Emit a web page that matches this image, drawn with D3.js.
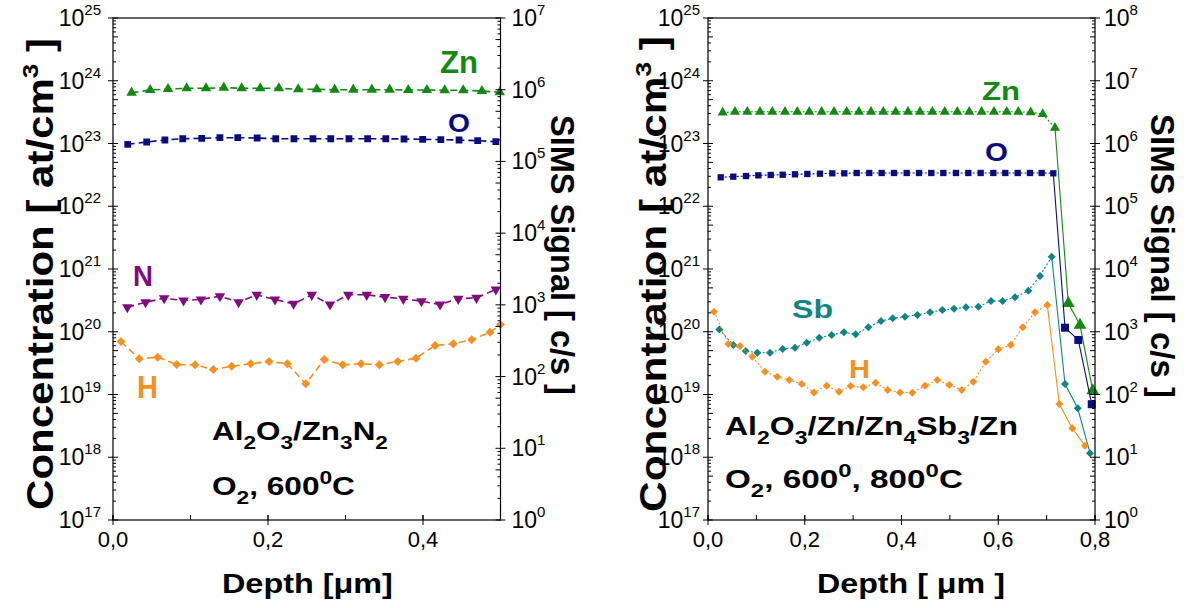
<!DOCTYPE html>
<html><head><meta charset="utf-8">
<script src="https://cdn.jsdelivr.net/npm/d3@7"></script>
<style>body{margin:0;background:#fff} svg text{font-family:"Liberation Sans",Arial,sans-serif}</style>
</head><body><svg id="c" width="1189" height="608"></svg>
<script>
// ---------- DATA (depth in µm, concentration in at/cm^3) ----------
// Left panel: Al2O3/Zn3N2, O2 600°C
const p1ZnDepth = [0.024,0.048,0.071,0.095,0.120,0.143,0.166,0.190,0.214,0.239,0.263,0.286,0.310,0.334,0.357,0.381,0.405,0.428,0.452,0.476,0.499];
const p1Zn      = [6.45e23,7.12e23,7.39e23,7.58e23,7.58e23,7.75e23,7.58e23,7.58e23,7.58e23,7.31e23,7.31e23,7.2e23,7.2e23,7.2e23,7.2e23,7.12e23,7.12e23,7.04e23,7.04e23,6.87e23,6.55e23];
const p1ODepth  = [0.019,0.0435,0.067,0.090,0.1145,0.138,0.161,0.186,0.210,0.2335,0.258,0.281,0.3045,0.3286,0.352,0.3755,0.3996,0.423,0.4465,0.4706,0.494];
const p1O       = [9.71e22,1.057e23,1.137e23,1.19e23,1.21e23,1.237e23,1.237e23,1.224e23,1.19e23,1.19e23,1.19e23,1.19e23,1.19e23,1.19e23,1.19e23,1.18e23,1.167e23,1.15e23,1.137e23,1.108e23,1.069e23];
const p1NDepth  = [0.0185,0.042,0.066,0.091,0.1135,0.138,0.162,0.1855,0.209,0.233,0.2565,0.280,0.3036,0.3274,0.351,0.3746,0.398,0.422,0.4455,0.469,0.494];
const p1N       = [2.46e20,2.95e20,3.42e20,3.15e20,3.27e20,3.69e20,2.95e20,3.88e20,3.27e20,2.79e20,3.88e20,2.72e20,3.88e20,3.88e20,3.56e20,3.35e20,3.07e20,2.72e20,3.35e20,3.47e20,4.71e20];
const p1HDepth  = [0.0103,0.0339,0.0577,0.0822,0.1058,0.1294,0.1532,0.1777,0.2013,0.225,0.2487,0.2726,0.2964,0.32,0.3436,0.3674,0.391,0.4155,0.4391,0.4628,0.4865,0.5];
const p1H       = [7.0e19,3.71e19,3.93e19,3.0e19,2.97e19,2.5e19,2.82e19,3.09e19,3.36e19,3.09e19,1.48e19,3.61e19,2.97e19,3.09e19,2.97e19,3.36e19,3.79e19,6.04e19,6.43e19,7.45e19,9.8e19,1.3e20];

// Right panel: Al2O3/Zn/Zn4Sb3/Zn, O2 600°, 800°C
const p2ZnDepth = [0.0304,0.0558,0.0812,0.1075,0.1329,0.1592,0.1846,0.2094,0.235,0.2605,0.2867,0.3121,0.337,0.3624,0.388,0.4134,0.4382,0.4637,0.4893,0.5153,0.5401,0.5657,0.5912,0.6175,0.6414,0.6671,0.6919,0.7173,0.7448,0.7690,0.7953];
const p2Zn      = [3.1e23,3.2e23,3.2e23,3.2e23,3.2e23,3.2e23,3.2e23,3.2e23,3.2e23,3.2e23,3.2e23,3.2e23,3.2e23,3.2e23,3.2e23,3.2e23,3.2e23,3.2e23,3.2e23,3.2e23,3.2e23,3.2e23,3.2e23,3.2e23,3.2e23,3.14e23,2.95e23,1.78e23,2.84e20,1.28e20,1.15e19];
const p2ODepth  = [0.0263,0.0523,0.0786,0.104,0.1296,0.1544,0.1798,0.2053,0.2315,0.257,0.2818,0.3074,0.3334,0.359,0.3845,0.4107,0.4362,0.4616,0.4864,0.5126,0.5381,0.5637,0.5898,0.6146,0.6402,0.6656,0.6898,0.7138,0.738,0.7655,0.7932];
const p2O       = [2.89e22,2.96e22,3.03e22,3.11e22,3.15e22,3.18e22,3.23e22,3.27e22,3.30e22,3.35e22,3.35e22,3.39e22,3.39e22,3.39e22,3.39e22,3.39e22,3.39e22,3.39e22,3.39e22,3.39e22,3.39e22,3.39e22,3.39e22,3.39e22,3.39e22,3.39e22,3.39e22,3.35e22,1.16e20,7.4e19,7.0e18];
const p2SbDepth = [0.0234,0.0523,0.0779,0.1019,0.1282,0.1544,0.1798,0.204,0.230,0.2557,0.281,0.3053,0.3314,0.3576,0.3818,0.4072,0.4327,0.459,0.4844,0.5085,0.5333,0.5588,0.585,0.6092,0.6346,0.6622,0.6863,0.7105,0.738,0.7643,0.7897];
const p2Sb      = [1.09e20,6.15e19,4.93e19,4.64e19,4.64e19,5.31e19,5.57e19,6.69e19,8.04e19,8.87e19,9.8e19,9.1e19,1.18e20,1.48e20,1.64e20,1.74e20,1.85e20,2.04e20,2.22e20,2.33e20,2.45e20,2.51e20,3.09e20,3.09e20,3.54e20,4.51e20,7.73e20,1.57e21,1.47e19,6.03e18,1.16e18];
const p2HDepth  = [0.0124,0.042,0.0661,0.0916,0.1178,0.1433,0.168,0.1937,0.2191,0.2454,0.2708,0.295,0.321,0.3467,0.3715,0.3969,0.4224,0.4486,0.474,0.4988,0.5245,0.5485,0.5741,0.6001,0.6257,0.6505,0.6759,0.7014,0.7262,0.753,0.7793];
const p2H       = [2.09e20,6.38e19,5.93e19,4.0e19,2.31e19,1.92e19,1.70e19,1.47e19,1.08e19,1.38e19,1.11e19,1.37e19,1.30e19,1.54e19,1.18e19,1.08e19,1.07e19,1.38e19,1.70e19,1.42e19,1.18e19,1.60e19,3.33e19,5.25e19,6.15e19,1.18e20,2.04e20,2.67e20,7.06e18,2.89e18,1.53e18];

// Tick labels
const concTickExps = [17,18,19,20,21,22,23,24,25];
const p1SimsTickExps = [0,1,2,3,4,5,6,7];
const p2SimsTickExps = [0,1,2,3,4,5,6,7,8];
const p1DepthTicks = [0,0.2,0.4];
const p2DepthTicks = [0,0.2,0.4,0.6,0.8];

// ---------- DRAWING ----------
const svg = d3.select('#c');
const COL = {Zn:'#138a13', O:'#0c0c80', N:'#7f0d7f', H:'#f7901e', Sb:'#0f8585'};

function rich(t, parts, base, small, up, down){
  let cur = 0;
  parts.forEach(([s,m])=>{
    const target = m==='sup' ? -up : (m==='sub' ? down : 0);
    t.append('tspan').attr('dy', target-cur).attr('font-size', m==='n'?base:small).text(s);
    cur = target;
  });
}
// stretch a horizontal text horizontally to a target width, keeping its left x
function fitH(t, x, targetW){
  const w = t.node().getBBox().width;
  const s = targetW / w;
  t.attr('transform', `translate(${x},0) scale(${s},1) translate(${-x},0)`);
}
// rotated title: centered at (cx,cy), length along text direction = len
function rotTitle(g, cx, cy, angle, len, fs, parts){
  const t = g.append('text').attr('x',0).attr('y',0).attr('text-anchor','middle').attr('font-weight','bold');
  rich(t, parts, fs, fs*0.62, fs*0.42, 0);
  const bb = t.node().getBBox();
  const s = len / bb.width;
  const dyc = -(bb.y + bb.height/2) + fs*0.06;
  t.attr('transform', `translate(${cx},${cy}) rotate(${angle}) scale(${s},1) translate(0,${dyc})`);
}

const sym = {
  tri: s => d3.symbol(d3.symbolTriangle, s)(),
  triDown: s => d3.symbol(d3.symbolTriangle, s)(),
  sq: s => d3.symbol(d3.symbolSquare, s)(),
  dia: s => d3.symbol(d3.symbolSquare, s)()
};
const rot = {tri:0, triDown:180, sq:0, dia:45};

function drawPanel(cfg){
  const g = svg.append('g');
  const x = d3.scaleLinear().domain(cfg.xDomain).range(cfg.xRange);
  const y = d3.scaleLog().domain([1e17,1e25]).range([cfg.yBottom, cfg.yTop]);
  const y2 = d3.scaleLog().domain(cfg.y2Domain).range([cfg.yBottom, cfg.yTop]);
  const [x0,x1] = cfg.xRange;
  const clipId = 'clip'+cfg.id;
  svg.append('clipPath').attr('id',clipId).append('rect')
    .attr('x',x0).attr('y',cfg.yTop-8).attr('width',x1-x0+8).attr('height',cfg.yBottom-cfg.yTop+16);

  // series
  const plot = g.append('g').attr('clip-path',`url(#${clipId})`);
  cfg.series.forEach(s=>{
    const pts = s.depth.map((d,i)=>[d, s.vals[i]]);
    const line = d3.line().x(d=>x(d[0])).y(d=>y(d[1]));
    if (cfg.solidFrom!=null){
      const k = pts.length - cfg.solidFrom;
      plot.append('path').attr('d', line(pts.slice(0,k+1))).attr('fill','none')
        .attr('stroke',s.color).attr('stroke-width',cfg.lw).attr('stroke-dasharray',cfg.dash);
      plot.append('path').attr('d', line(pts.slice(k))).attr('fill','none')
        .attr('stroke',s.color).attr('stroke-width',cfg.lw);
    } else {
      plot.append('path').attr('d', line(pts)).attr('fill','none')
        .attr('stroke',s.color).attr('stroke-width',cfg.lw).attr('stroke-dasharray',cfg.dash);
    }
    plot.selectAll(null).data(pts).join('path')
      .attr('d',(d,i)=>sym[s.shape](s.bigFrom!=null && i>=pts.length-s.bigFrom ? s.bigSize : s.size))
      .attr('transform',d=>`translate(${x(d[0])},${y(d[1])}) rotate(${rot[s.shape]})`)
      .attr('fill',s.color);
  });

  // frame
  g.append('rect').attr('x',x0).attr('y',cfg.yTop).attr('width',x1-x0).attr('height',cfg.yBottom-cfg.yTop)
    .attr('fill','none').attr('stroke','#000').attr('stroke-width',1.2);

  // left log axis ticks
  const ax = g.append('g').attr('stroke','#000').attr('stroke-width',1);
  for(let e=17;e<25;e++){
    for(let m=2;m<10;m++){
      const yy = y(m*Math.pow(10,e));
      ax.append('line').attr('x1',x0).attr('x2',x0+(m===5?5:3)).attr('y1',yy).attr('y2',yy);
    }
  }
  concTickExps.forEach(e=>{
    const yy=y(Math.pow(10,e));
    ax.append('line').attr('x1',x0-5).attr('x2',x0+5).attr('y1',yy).attr('y2',yy);
    const t = g.append('text').attr('x',x0-cfg.lblGapL).attr('y',yy+8).attr('text-anchor','end').attr('fill','#000');
    rich(t,[['10','n'],[String(e),'sup']],23,15,11,0);
  });
  // right log axis
  const [e0,e1] = [Math.log10(cfg.y2Domain[0]), Math.log10(cfg.y2Domain[1])];
  for(let e=e0;e<e1;e++){
    for(let m=2;m<10;m++){
      const yy = y2(m*Math.pow(10,e));
      ax.append('line').attr('x1',x1).attr('x2',x1-(m===5?5:3)).attr('y1',yy).attr('y2',yy);
    }
  }
  cfg.simsExps.forEach(e=>{
    const yy=y2(Math.pow(10,e));
    ax.append('line').attr('x1',x1-5).attr('x2',x1+5).attr('y1',yy).attr('y2',yy);
    const t = g.append('text').attr('x',x1+cfg.lblGapR).attr('y',yy+8).attr('text-anchor','start').attr('fill','#000');
    rich(t,[['10','n'],[String(e),'sup']],23,15,11,0);
  });
  // x axis ticks
  const step=0.1;
  for(let v=cfg.xDomain[0]; v<=cfg.xDomain[1]+1e-9; v+=step){
    const xx=x(v);
    ax.append('line').attr('x1',xx).attr('x2',xx).attr('y1',cfg.yBottom).attr('y2',cfg.yBottom-5);
  }
  cfg.xTicks.forEach(v=>{
    const xx=x(v);
    ax.append('line').attr('x1',xx).attr('x2',xx).attr('y1',cfg.yBottom+5).attr('y2',cfg.yBottom-5);
    g.append('text').attr('x',xx).attr('y',cfg.yBottom+27).attr('text-anchor','middle')
      .attr('font-size',22).text(d3.format('.1f')(v).replace('.',','));
  });

  // axis titles
  const xt = g.append('text').attr('x',cfg.xTitleX).attr('y',593)
    .attr('font-size',28).attr('font-weight','bold').text(cfg.xTitle);
  fitH(xt, cfg.xTitleX, cfg.xTitleW);
  rotTitle(g, cfg.concTitleX, cfg.concTitleY, -90, cfg.concLen, 37,
    [['Concentration [ at/cm','n'],['3','sup'],[' ]','n']]);
  rotTitle(g, cfg.simsTitleX, cfg.simsTitleY, 90, cfg.simsLen, 34,
    [['SIMS Signal [ c/s ]','n']]);

  // element labels
  cfg.labels.forEach(l=>{
    const t = g.append('text').attr('x',l.x).attr('y',l.y).attr('font-weight','bold')
      .attr('font-size',l.fs).attr('fill',l.color).text(l.text);
    fitH(t, l.x, l.w);
  });
  // sample description
  cfg.notes.forEach(n=>{
    const t = g.append('text').attr('x',n.x).attr('y',n.y).attr('font-weight','bold').attr('fill','#000');
    rich(t,n.parts,n.fs,n.fs*0.72,11,9);
    fitH(t, n.x, n.w);
  });
}

drawPanel({
  id:1, xDomain:[0,0.5], xRange:[113,500.5], yTop:18, yBottom:520, y2Domain:[1,1e7],
  simsExps:p1SimsTickExps, xTicks:p1DepthTicks, lblGapL:12, lblGapR:11,
  lw:1.6, dash:'7,4', solidFrom:null,
  xTitle:'Depth [μm]', xTitleX:222, xTitleW:171,
  concTitleX:37, concTitleY:274, concLen:472, simsTitleX:565, simsTitleY:255, simsLen:280,
  series:[
    {depth:p1ZnDepth, vals:p1Zn, color:COL.Zn, shape:'tri', size:48},
    {depth:p1ODepth, vals:p1O, color:COL.O, shape:'sq', size:46},
    {depth:p1NDepth, vals:p1N, color:COL.N, shape:'triDown', size:48},
    {depth:p1HDepth, vals:p1H, color:COL.H, shape:'dia', size:40}
  ],
  labels:[
    {text:'Zn', x:440, y:73, fs:31, w:38, color:COL.Zn},
    {text:'O', x:448, y:132, fs:26, w:22, color:COL.O},
    {text:'N', x:133, y:286, fs:29, w:20, color:COL.N},
    {text:'H', x:137, y:398, fs:31, w:21, color:COL.H}
  ],
  notes:[
    {x:212, y:440, fs:25, w:176, parts:[['Al','n'],['2','sub'],['O','n'],['3','sub'],['/Zn','n'],['3','sub'],['N','n'],['2','sub']]},
    {x:212, y:495, fs:25, w:143, parts:[['O','n'],['2','sub'],[', 600','n'],['0','sup'],['C','n']]}
  ]
});

drawPanel({
  id:2, xDomain:[0,0.8], xRange:[708,1095], yTop:18, yBottom:520, y2Domain:[1,1e8],
  simsExps:p2SimsTickExps, xTicks:p2DepthTicks, lblGapL:8, lblGapR:9,
  lw:1.1, dash:'2,2', solidFrom:4,
  xTitle:'Depth [ μm ]', xTitleX:817, xTitleW:188,
  concTitleX:650, concTitleY:274, concLen:476, simsTitleX:1165, simsTitleY:256, simsLen:284,
  series:[
    {depth:p2ZnDepth, vals:p2Zn, color:COL.Zn, shape:'tri', size:44, bigFrom:3, bigSize:70},
    {depth:p2ODepth, vals:p2O, color:COL.O, shape:'sq', size:40, bigFrom:3, bigSize:64},
    {depth:p2SbDepth, vals:p2Sb, color:COL.Sb, shape:'dia', size:32},
    {depth:p2HDepth, vals:p2H, color:COL.H, shape:'dia', size:32}
  ],
  labels:[
    {text:'Zn', x:982, y:100, fs:26, w:38, color:COL.Zn},
    {text:'O', x:985, y:161, fs:26, w:23, color:COL.O},
    {text:'Sb', x:792, y:318, fs:25, w:41, color:COL.Sb},
    {text:'H', x:849, y:378, fs:25, w:21, color:COL.H}
  ],
  notes:[
    {x:725, y:435, fs:25, w:293, parts:[['Al','n'],['2','sub'],['O','n'],['3','sub'],['/Zn/Zn','n'],['4','sub'],['Sb','n'],['3','sub'],['/Zn','n']]},
    {x:725, y:488, fs:25, w:238, parts:[['O','n'],['2','sub'],[', 600','n'],['0','sup'],[',  800','n'],['0','sup'],['C','n']]}
  ]
});
</script></body></html>
